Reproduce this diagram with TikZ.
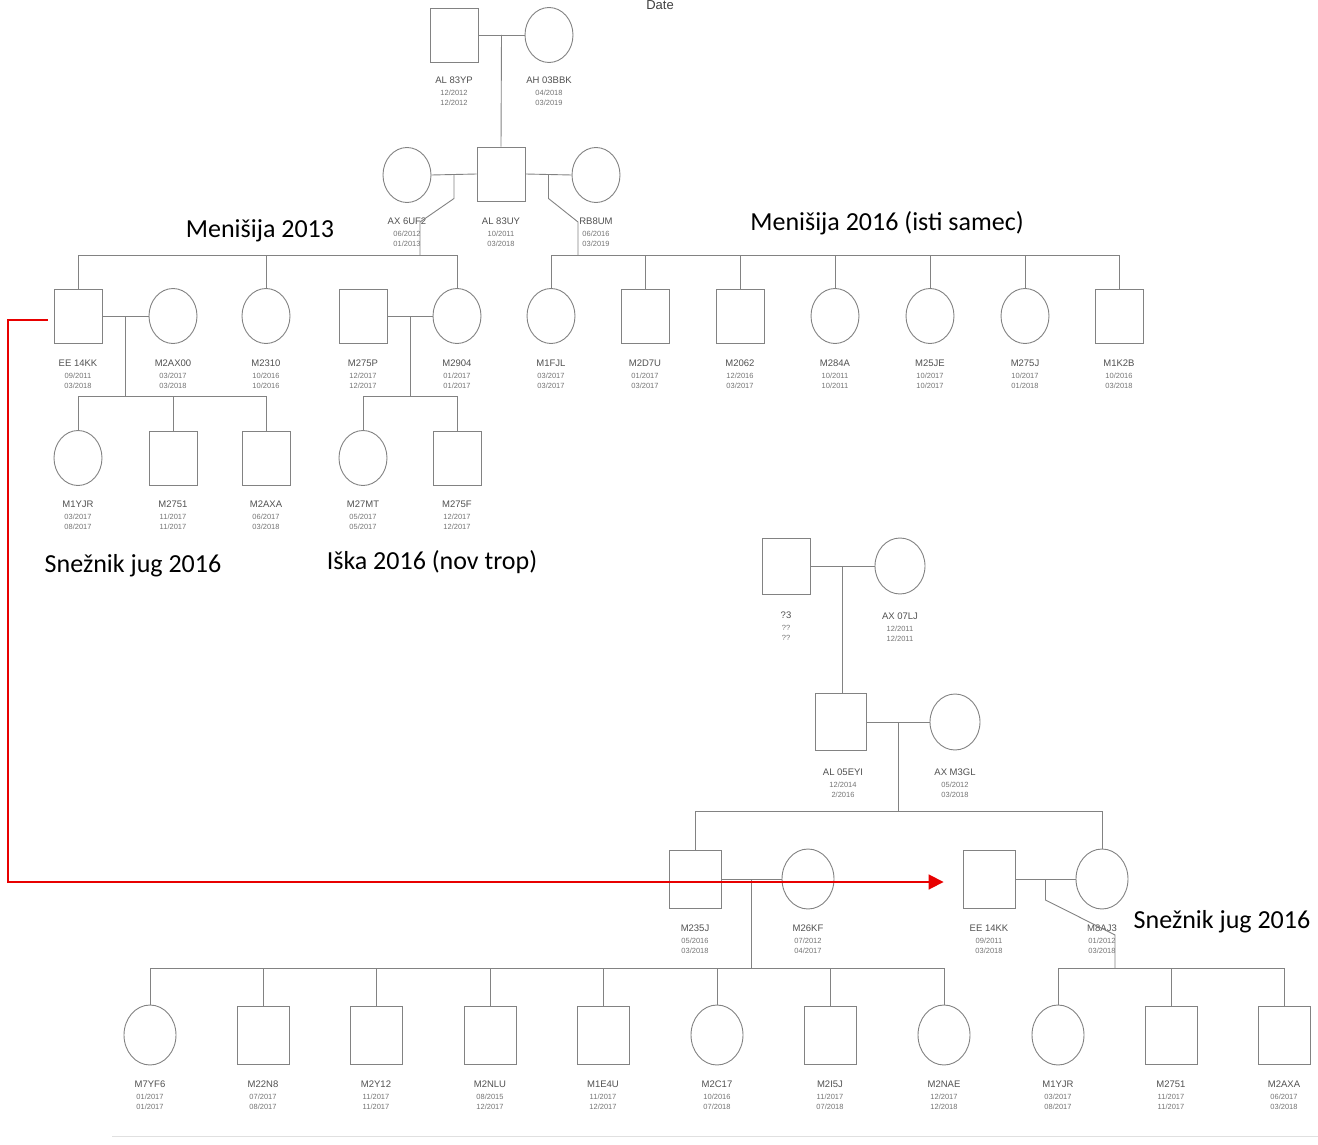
\documentclass[tikz,border=0pt]{standalone}
\usepackage{fontspec}
\setmainfont{Liberation Sans}
\newfontfamily\calib{Carlito}
\usetikzlibrary{shapes.geometric,arrows.meta,calc}
\definecolor{lc}{RGB}{130,130,130}
\definecolor{tc}{RGB}{80,80,80}
\definecolor{dc}{RGB}{115,115,115}
\definecolor{rd}{RGB}{232,0,0}
\newcommand\dfont{\fontsize{7.5}{11.5}\selectfont\color{dc}}
\newcommand\plab[6]{\node[lab] (#1) at (#2,#3) {#4\\[0pt]{\dfont #5}\\[-1pt]{\dfont #6}};}
\tikzset{
  sq/.style={draw=lc, line width=0.9pt, rectangle, minimum width=48pt, minimum height=54pt, inner sep=0pt},
  ci/.style={draw=lc, line width=0.9pt, ellipse, minimum width=48pt, minimum height=55pt, inner sep=0pt},
  sqb/.style={sq, minimum width=52pt, minimum height=58pt},
  cib/.style={ci, minimum width=52pt, minimum height=60pt},
  ln/.style={draw=lc, line width=0.9pt},
  lab/.style={anchor=north, align=center, inner sep=0pt, text=tc, font=\fontsize{9.5}{11.5}\selectfont},
  big/.style={inner sep=0pt, font=\calib\fontsize{26}{30}\selectfont, text=black},
  redarrow/.style={draw=rd, line width=1.8pt, -{Triangle[length=15pt,width=15pt]}}
}
\begin{document}
\begin{tikzpicture}[x=1pt,y=-1pt]
\useasboundingbox (0,0) rectangle (1318,1145);
\node[font=\fontsize{13}{14}\selectfont, text=black!75, anchor=north, inner sep=0pt] (date) at (660,0.5) {Date};
% ---------- first pedigree ----------
\node[sq] (p1) at (454,35) {};
\node[ci] (p2) at (549,35) {};
\plab{lp1}{454}{77}{AL 83YP}{12/2012}{12/2012}
\plab{lp2}{549}{77}{AH 03BBK}{04/2018}{03/2019}
\node[ci] (g0) at (407,175) {};
\node[sq] (g1) at (501,174) {};
\node[ci] (g2) at (596,175) {};
\plab{lg0}{407}{218}{AX 6UF2}{06/2012}{01/2013}
\plab{lg1}{501}{218}{AL 83UY}{10/2011}{03/2018}
\plab{lg2}{596}{218}{RB8UM}{06/2016}{03/2019}
\draw[ln] (p1.east) -- (p2.west);
\coordinate (m0) at ($(p1.east)!0.5!(p2.west)$);
\draw[ln] (m0) -- (g1.north);
\draw[ln] (g0.east) -- (g1.west);
\draw[ln] (g1.east) -- (g2.west);
\coordinate (mA) at ($(g0.east)!0.5!(g1.west)$);
\coordinate (mB) at ($(g1.east)!0.5!(g2.west)$);
% children Menisija 2013
\node[sq] (a1) at (78,316) {};
\node[ci] (a2) at (173,316) {};
\node[ci] (a3) at (266,316) {};
\node[sq] (a4) at (363,316) {};
\node[ci] (a5) at (457,316) {};
\plab{la1}{78}{360}{EE 14KK}{09/2011}{03/2018}
\plab{la2}{173}{360}{M2AX00}{03/2017}{03/2018}
\plab{la3}{266}{360}{M2310}{10/2016}{10/2016}
\plab{la4}{363}{360}{M275P}{12/2017}{12/2017}
\plab{la5}{457}{360}{M2904}{01/2017}{01/2017}
\coordinate (sA) at (0,255);
\draw[ln] (a1.north) -- (a1.north |- sA) -- (a5.north |- sA) -- (a5.north);
\draw[ln] (a3.north) -- (a3.north |- sA);
\draw[ln] (mA) -- ++(0,24) -- (420,222) -- (420 ,255);
% children Menisija 2016
\node[ci] (b1) at (551,316) {};
\node[sq] (b2) at (645,316) {};
\node[sq] (b3) at (740,316) {};
\node[ci] (b4) at (835,316) {};
\node[ci] (b5) at (930,316) {};
\node[ci] (b6) at (1025,316) {};
\node[sq] (b7) at (1119,316) {};
\plab{lb1}{551}{360}{M1FJL}{03/2017}{03/2017}
\plab{lb2}{645}{360}{M2D7U}{01/2017}{03/2017}
\plab{lb3}{740}{360}{M2062}{12/2016}{03/2017}
\plab{lb4}{835}{360}{M284A}{10/2011}{10/2011}
\plab{lb5}{930}{360}{M25JE}{10/2017}{10/2017}
\plab{lb6}{1025}{360}{M275J}{10/2017}{01/2018}
\plab{lb7}{1119}{360}{M1K2B}{10/2016}{03/2018}
\draw[ln] (b1.north) -- (b1.north |- sA) -- (b7.north |- sA) -- (b7.north);
\foreach \n in {b2,b3,b4,b5,b6} \draw[ln] (\n.north) -- (\n.north |- sA);
\draw[ln] (mB) -- ++(0,24) -- (578,222) -- (578,255);
% grandchildren
\draw[ln] (a1.east) -- (a2.west);
\draw[ln] (a4.east) -- (a5.west);
\coordinate (mC) at ($(a1.east)!0.5!(a2.west)$);
\coordinate (mD) at ($(a4.east)!0.5!(a5.west)$);
\node[ci] (d1) at (78,458) {};
\node[sq] (d2) at (173,458) {};
\node[sq] (d3) at (266,458) {};
\node[ci] (d4) at (363,458) {};
\node[sq] (d5) at (457,458) {};
\plab{ld1}{78}{501}{M1YJR}{03/2017}{08/2017}
\plab{ld2}{173}{501}{M2751}{11/2017}{11/2017}
\plab{ld3}{266}{501}{M2AXA}{06/2017}{03/2018}
\plab{ld4}{363}{501}{M27MT}{05/2017}{05/2017}
\plab{ld5}{457}{501}{M275F}{12/2017}{12/2017}
\coordinate (sC) at (0,396);
\draw[ln] (mC) -- (mC |- sC);
\draw[ln] (mD) -- (mD |- sC);
\draw[ln] (d1.north) -- (d1.north |- sC) -- (d3.north |- sC) -- (d3.north);
\draw[ln] (d2.north) -- (d2.north |- sC);
\draw[ln] (d4.north) -- (d4.north |- sC) -- (d5.north |- sC) -- (d5.north);
% ---------- second pedigree ----------
\node[sq, minimum width=48pt, minimum height=56pt] (q1) at (786,566) {};
\node[ci, minimum width=50pt, minimum height=56pt] (q2) at (900,566) {};
\node[lab] (lq1) at (786,612) {?3\\[0pt]{\dfont ??}\\[-1pt]{\dfont ??}};
\plab{lq2}{900}{613}{AX 07LJ}{12/2011}{12/2011}
\draw[ln] (q1.east) -- (q2.west);
\coordinate (mE) at ($(q1.east)!0.5!(q2.west)$);
\node[sq, minimum width=51pt, minimum height=57pt] (r1) at (841,722) {};
\node[ci, minimum width=50pt, minimum height=56pt] (r2) at (955,722) {};
\plab{lr1}{843}{769}{AL 05EYI}{12/2014}{2/2016}
\plab{lr2}{955}{769}{AX M3GL}{05/2012}{03/2018}
\draw[ln] (mE) -- (mE |- r1.north);
\draw[ln] (r1.east) -- (r2.west);
\coordinate (mF) at ($(r1.east)!0.5!(r2.west)$);
\node[sqb] (s1) at (695,879) {};
\node[cib] (s2) at (808,879) {};
\node[sqb] (s3) at (989,879) {};
\node[cib] (s4) at (1102,879) {};
\plab{ls1}{695}{925}{M235J}{05/2016}{03/2018}
\plab{ls2}{808}{925}{M26KF}{07/2012}{04/2017}
\plab{ls3}{989}{925}{EE 14KK}{09/2011}{03/2018}
\plab{ls4}{1102}{925}{M8AJ3}{01/2012}{03/2018}
\coordinate (sF) at (0,811);
\draw[ln] (mF) -- (mF |- sF);
\draw[ln] (s1.north) -- (s1.north |- sF) -- (s4.north |- sF) -- (s4.north);
\draw[ln] (s1.east) -- (s2.west);
\draw[ln] (s3.east) -- (s4.west);
\coordinate (mG) at ($(s1.east)!0.5!(s2.west)$);
\coordinate (mH) at ($(s3.east)!0.5!(s4.west)$);
\coordinate (sG) at (0,968);
% bottom children
\node[cib] (t1) at (150,1035) {};
\node[sqb] (t2) at (263,1035) {};
\node[sqb] (t3) at (376,1035) {};
\node[sqb] (t4) at (490,1035) {};
\node[sqb] (t5) at (603,1035) {};
\node[cib] (t6) at (717,1035) {};
\node[sqb] (t7) at (830,1035) {};
\node[cib] (t8) at (944,1035) {};
\node[cib] (u1) at (1058,1035) {};
\node[sqb] (u2) at (1171,1035) {};
\node[sqb] (u3) at (1284,1035) {};
\plab{lt1}{150}{1081}{M7YF6}{01/2017}{01/2017}
\plab{lt2}{263}{1081}{M22N8}{07/2017}{08/2017}
\plab{lt3}{376}{1081}{M2Y12}{11/2017}{11/2017}
\plab{lt4}{490}{1081}{M2NLU}{08/2015}{12/2017}
\plab{lt5}{603}{1081}{M1E4U}{11/2017}{12/2017}
\plab{lt6}{717}{1081}{M2C17}{10/2016}{07/2018}
\plab{lt7}{830}{1081}{M2I5J}{11/2017}{07/2018}
\plab{lt8}{944}{1081}{M2NAE}{12/2017}{12/2018}
\plab{lu1}{1058}{1081}{M1YJR}{03/2017}{08/2017}
\plab{lu2}{1171}{1081}{M2751}{11/2017}{11/2017}
\plab{lu3}{1284}{1081}{M2AXA}{06/2017}{03/2018}
\draw[ln] (mG) -- (mG |- sG);
\draw[ln] (t1.north) -- (t1.north |- sG) -- (t8.north |- sG) -- (t8.north);
\foreach \n in {t2,t3,t4,t5,t6,t7} \draw[ln] (\n.north) -- (\n.north |- sG);
\draw[ln] (mH) -- ++(0,21) -- (1115,935) -- (1115,968);
\draw[ln] (u1.north) -- (u1.north |- sG) -- (u3.north |- sG) -- (u3.north);
\draw[ln] (u2.north) -- (u2.north |- sG);
% page edge line
\draw[draw=black!12, line width=1pt] (112,1136) -- (1318,1136);
% ---------- annotations ----------
\node[big] (t13) at (260,231) {Menišija 2013};
\node[big] (t16) at (887,223) {Menišija 2016 (isti samec)};
\node[big] (tsj1) at (133,566) {Snežnik jug 2016};
\node[big] (tis) at (432,562) {Iška 2016 (nov trop)};
\node[big] (tsj2) at (1222,922) {Snežnik jug 2016};
% red arrow
\coordinate (ra) at (8,320);
\coordinate (rb) at (8,882);
\draw[redarrow] ($(a1.west)+(-6,4)$) -- (ra) -- (rb) -- (rb -| s3.west) [shorten >=19pt];
\end{tikzpicture}
\end{document}
